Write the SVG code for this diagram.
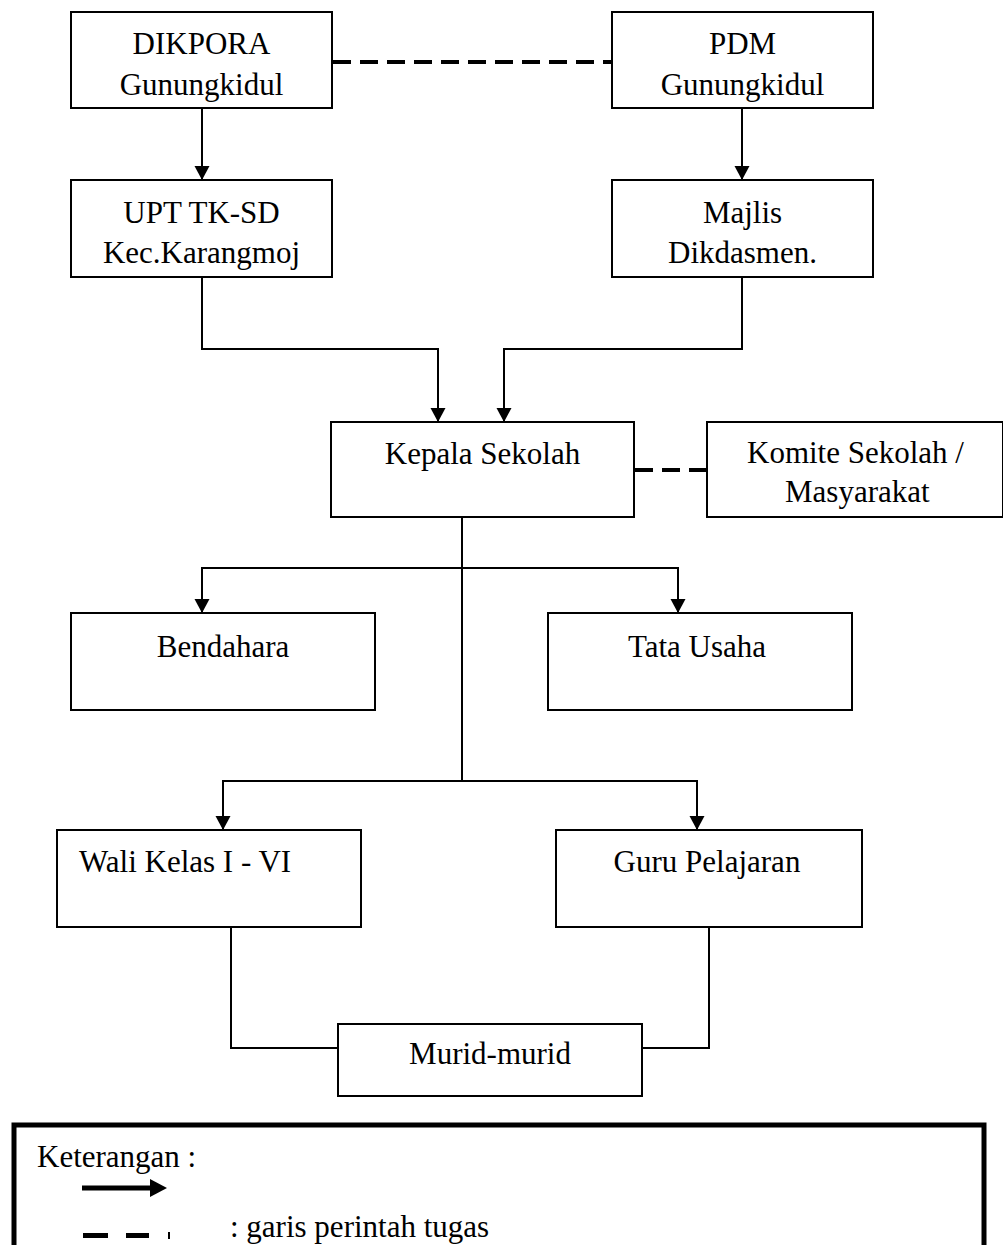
<svg xmlns="http://www.w3.org/2000/svg" width="1003" height="1245" viewBox="0 0 1003 1245">
<defs>
<marker id="ah" markerUnits="userSpaceOnUse" markerWidth="16" markerHeight="16" refX="14" refY="7.5" orient="auto">
<path d="M0,0 L14,7.5 L0,15 z" fill="#000"/>
</marker>
<style>
.box{fill:#fff;stroke:#000;stroke-width:2}
.t{font-family:"Liberation Serif","Times New Roman",serif;font-size:31px;fill:#000}
.c{text-anchor:middle}
.ln{fill:none;stroke:#000;stroke-width:2}
.arr{fill:none;stroke:#000;stroke-width:2;marker-end:url(#ah)}
.dash{fill:none;stroke:#000;stroke-width:4;stroke-dasharray:18 9}
</style>
</defs>
<rect width="1003" height="1245" fill="#fff"/>
<g id="connectors">
<line class="dash" x1="333" y1="62" x2="612" y2="62"/>
<line class="arr" x1="202" y1="108" x2="202" y2="180"/>
<line class="arr" x1="742" y1="108" x2="742" y2="180"/>
<path class="arr" d="M202,277 V349 H438 V422"/>
<path class="arr" d="M742,277 V349 H504 V422"/>
<line class="dash" x1="635" y1="470" x2="707" y2="470"/>
<line class="ln" x1="462" y1="517" x2="462" y2="781"/>
<path class="arr" d="M462,568 H202 V613"/>
<path class="arr" d="M462,568 H678 V613"/>
<path class="arr" d="M462,781 H223 V830"/>
<path class="arr" d="M462,781 H697 V830"/>
<path class="ln" d="M231,927 V1048 H338"/>
<path class="ln" d="M709,927 V1048 H642"/>
</g>
<g id="dikpora"><rect class="box" x="71" y="12" width="261" height="96"/><text class="t c" x="201.5" y="54">DIKPORA</text><text class="t c" x="201.5" y="95">Gunungkidul</text></g>
<g id="pdm"><rect class="box" x="612" y="12" width="261" height="96"/><text class="t c" x="742.5" y="54">PDM</text><text class="t c" x="742.5" y="95">Gunungkidul</text></g>
<g id="upt"><rect class="box" x="71" y="180" width="261" height="97"/><text class="t c" x="201.5" y="223">UPT TK-SD</text><text class="t c" x="201.5" y="263">Kec.Karangmoj</text></g>
<g id="majlis"><rect class="box" x="612" y="180" width="261" height="97"/><text class="t c" x="742.5" y="223">Majlis</text><text class="t c" x="742.5" y="263">Dikdasmen.</text></g>
<g id="kepala"><rect class="box" x="331" y="422" width="303" height="95"/><text class="t c" x="482.5" y="464">Kepala Sekolah</text></g>
<g id="komite"><rect class="box" x="707" y="422" width="296" height="95"/><text class="t" x="747" y="463">Komite Sekolah /</text><text class="t" x="785" y="502">Masyarakat</text></g>
<g id="bendahara"><rect class="box" x="71" y="613" width="304" height="97"/><text class="t c" x="223" y="657">Bendahara</text></g>
<g id="tatausaha"><rect class="box" x="548" y="613" width="304" height="97"/><text class="t c" x="697" y="657">Tata Usaha</text></g>
<g id="walikelas"><rect class="box" x="57" y="830" width="304" height="97"/><text class="t" x="79" y="872">Wali Kelas I - VI</text></g>
<g id="guru"><rect class="box" x="556" y="830" width="306" height="97"/><text class="t c" x="707" y="872">Guru Pelajaran</text></g>
<g id="murid"><rect class="box" x="338" y="1024" width="304" height="72"/><text class="t c" x="490" y="1064">Murid-murid</text></g>
<g id="legend">
<rect x="14" y="1125" width="970" height="140" fill="none" stroke="#000" stroke-width="5"/>
<text class="t" x="37" y="1167">Keterangan :</text>
<line x1="82" y1="1188" x2="152" y2="1188" stroke="#000" stroke-width="5"/>
<path d="M150,1179 L167,1188 L150,1197 z" fill="#000"/>
<rect x="83" y="1233" width="25" height="5" fill="#000"/>
<rect x="126" y="1233" width="23" height="5" fill="#000"/>
<rect x="168" y="1232" width="2" height="7" fill="#000"/>
<text class="t" x="230" y="1237">: garis perintah tugas</text>
</g>
</svg>
